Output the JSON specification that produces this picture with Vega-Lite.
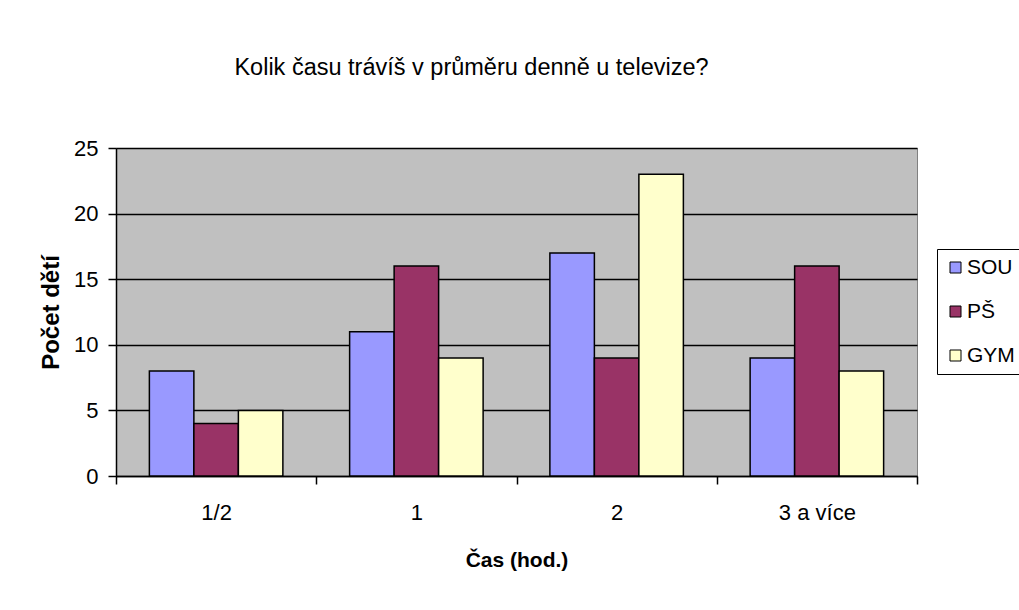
{
  "$schema": "https://vega.github.io/schema/vega-lite/v6.json",
  "width": 801,
  "height": 328,
  "autosize": {"type": "none"},
  "padding": {"left": 116, "top": 148, "right": 102, "bottom": 134},
  "background": "white",
  "title": {
    "text": "Kolik času trávíš v průměru denně u televize?",
    "font": "Liberation Sans",
    "fontSize": 23.5,
    "fontWeight": "normal",
    "color": "black",
    "frame": "group",
    "anchor": "middle",
    "dx": -45,
    "baseline": "alphabetic",
    "offset": 39
  },
  "data": {
    "values": [
      {"cas": "1/2", "skola": "SOU", "pocet": 8},
      {"cas": "1/2", "skola": "PŠ", "pocet": 4},
      {"cas": "1/2", "skola": "GYM", "pocet": 5},
      {"cas": "1", "skola": "SOU", "pocet": 11},
      {"cas": "1", "skola": "PŠ", "pocet": 16},
      {"cas": "1", "skola": "GYM", "pocet": 9},
      {"cas": "2", "skola": "SOU", "pocet": 17},
      {"cas": "2", "skola": "PŠ", "pocet": 9},
      {"cas": "2", "skola": "GYM", "pocet": 23},
      {"cas": "3 a více", "skola": "SOU", "pocet": 9},
      {"cas": "3 a více", "skola": "PŠ", "pocet": 16},
      {"cas": "3 a více", "skola": "GYM", "pocet": 8}
    ]
  },
  "mark": {"type": "bar", "stroke": "black", "strokeWidth": 1.5},
  "encoding": {
    "x": {
      "field": "cas",
      "type": "nominal",
      "sort": ["1/2", "1", "2", "3 a více"],
      "scale": {"paddingInner": 0, "paddingOuter": 0},
      "axis": {
        "title": "Čas (hod.)",
        "labelAngle": 0,
        "tickBand": "extent",
        "grid": false,
        "domainColor": "black",
        "domainWidth": 1.5,
        "tickColor": "black",
        "tickWidth": 1.5,
        "tickSize": 8,
        "labelPadding": 18,
        "labelFont": "Liberation Sans",
        "labelFontSize": 22,
        "labelColor": "black",
        "titleFont": "Liberation Sans",
        "titleFontSize": 21,
        "titleFontWeight": "bold",
        "titleColor": "black",
        "titlePadding": 26
      }
    },
    "xOffset": {
      "field": "skola",
      "sort": ["SOU", "PŠ", "GYM"],
      "scale": {"paddingInner": 0, "paddingOuter": 0.75}
    },
    "y": {
      "field": "pocet",
      "type": "quantitative",
      "scale": {"domain": [0, 25], "nice": false},
      "axis": {
        "values": [0, 5, 10, 15, 20, 25],
        "title": "Počet dětí",
        "grid": true,
        "gridColor": "black",
        "gridWidth": 1.5,
        "gridOpacity": 1,
        "domainColor": "black",
        "domainWidth": 1.5,
        "tickColor": "black",
        "tickWidth": 1.5,
        "tickSize": 8,
        "labelPadding": 10,
        "labelFont": "Liberation Sans",
        "labelFontSize": 22,
        "labelColor": "black",
        "titleFont": "Liberation Sans",
        "titleFontSize": 24,
        "titleFontWeight": "bold",
        "titleColor": "black",
        "titlePadding": 10
      }
    },
    "color": {
      "field": "skola",
      "type": "nominal",
      "sort": ["SOU", "PŠ", "GYM"],
      "scale": {"domain": ["SOU", "PŠ", "GYM"], "range": ["#9999FF", "#993366", "#FFFFCC"]},
      "legend": {
        "title": null,
        "orient": "none",
        "legendX": 821,
        "legendY": 101,
        "strokeColor": "black",
        "fillColor": "white",
        "padding": 8,
        "symbolType": "square",
        "symbolSize": 121,
        "symbolStrokeColor": "black",
        "symbolStrokeWidth": 1,
        "symbolOpacity": 1,
        "labelFont": "Liberation Sans",
        "labelFontSize": 21,
        "labelColor": "black",
        "labelOffset": 1,
        "rowPadding": 22
      }
    }
  },
  "config": {
    "view": {"fill": "#C0C0C0", "stroke": "#808080", "strokeWidth": 1}
  }
}
